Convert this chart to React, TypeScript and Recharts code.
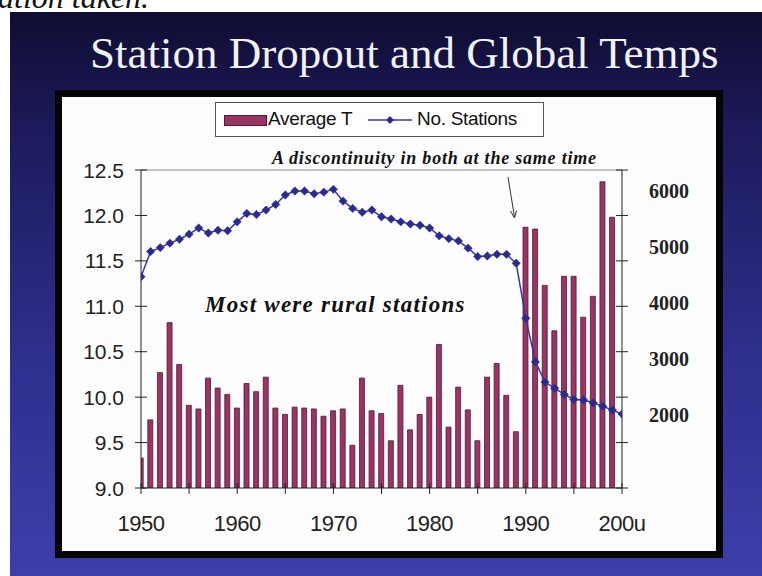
import React from "react"
import { Bar, ComposedChart, Line, ReferenceLine, XAxis, YAxis } from "recharts"

// years on the x axis
const years = [
  1950, 1951, 1952, 1953, 1954, 1955, 1956, 1957, 1958, 1959,
  1960, 1961, 1962, 1963, 1964, 1965, 1966, 1967, 1968, 1969,
  1970, 1971, 1972, 1973, 1974, 1975, 1976, 1977, 1978, 1979,
  1980, 1981, 1982, 1983, 1984, 1985, 1986, 1987, 1988, 1989,
  1990, 1991, 1992, 1993, 1994, 1995, 1996, 1997, 1998, 1999,
  2000,
]

// Average T (left axis)
const averageT = [
  9.33, 9.75, 10.27, 10.82, 10.36, 9.91, 9.87, 10.21, 10.1, 10.03,
  9.88, 10.15, 10.06, 10.22, 9.88, 9.81, 9.89, 9.88, 9.87, 9.79,
  9.85, 9.87, 9.47, 10.21, 9.85, 9.82, 9.52, 10.13, 9.64, 9.81,
  10.0, 10.58, 9.67, 10.11, 9.86, 9.52, 10.22, 10.37, 10.02, 9.62,
  11.87, 11.85, 11.23, 10.73, 11.33, 11.33, 10.88, 11.11, 12.37, 11.98,
  null,
]

// No. Stations (right axis)
const stations = [
  4470, 4920, 4990, 5070, 5140, 5230, 5340, 5250, 5300, 5290,
  5450, 5600, 5580, 5660, 5760, 5930, 6000, 6000, 5950, 5980,
  6030, 5820, 5690, 5620, 5660, 5540, 5500, 5450, 5410, 5390,
  5340, 5200, 5150, 5110, 4980, 4830, 4840, 4870, 4870, 4710,
  3730, 2950, 2590, 2480, 2370, 2280, 2270, 2220, 2160, 2090,
  2020,
]

const xTicks = [1950, 1955, 1960, 1965, 1970, 1975, 1980, 1985, 1990, 1995, 2000]
const xLabels: Record<number, string> = {
  1950: "1950", 1960: "1960", 1970: "1970", 1980: "1980", 1990: "1990", 2000: "200u",
}
const tempTicks = [9.0, 9.5, 10.0, 10.5, 11.0, 11.5, 12.0, 12.5]
const stationTicks = [2000, 3000, 4000, 5000, 6000]

const data = years.map((year, i) => ({ year, avg: averageT[i], stations: stations[i] }))

const BAR_FILL = "#9a3464"
const BAR_EDGE = "#561634"
const LINE_COLOR = "#3636a6"
const DOT_COLOR = "#2a2a92"
const AXIS = "#222"
const SANS = "'Liberation Sans', Arial, sans-serif"
const SERIF = "'Liberation Serif', 'Times New Roman', serif"

const LeftTick = (props: any) => {
  const { x, y, payload } = props
  return (
    <g>
      <line x1={x - 6} x2={x + 6} y1={y} y2={y} stroke={AXIS} />
      <text x={x - 17} y={y + 7.5} textAnchor="end" fontFamily={SANS} fontSize={21} fill="#222">
        {Number(payload.value).toFixed(1)}
      </text>
    </g>
  )
}

const RightTick = (props: any) => {
  const { x, y } = props
  return <line x1={x - 6} x2={x + 6} y1={y} y2={y} stroke={AXIS} />
}

const StationTick = (props: any) => {
  const { x, y, payload } = props
  return (
    <text x={x + 17} y={y + 6.5} textAnchor="start" fontFamily={SERIF} fontWeight="bold" fontSize={20} fill="#222">
      {payload.value}
    </text>
  )
}

const BottomTick = (props: any) => {
  const { x, y, payload } = props
  const label = xLabels[payload.value]
  return (
    <g>
      <line x1={x} x2={x} y1={y - 5} y2={y + 6} stroke={AXIS} />
      {label && (
        <text x={x} y={y + 43} textAnchor="middle" fontFamily={SANS} fontSize={22} fill="#222" letterSpacing={-0.5}>
          {label}
        </text>
      )}
    </g>
  )
}

const Diamond = (props: any) => {
  const { cx, cy } = props
  if (cx == null || cy == null) return null
  return (
    <polygon
      points={`${cx},${cy - 4.2} ${cx + 4.2},${cy} ${cx},${cy + 4.2} ${cx - 4.2},${cy}`}
      fill={DOT_COLOR}
      stroke={DOT_COLOR}
      strokeWidth={0.5}
    />
  )
}

function LegendBox() {
  return (
    <div
      style={{
        position: "absolute", left: 215, top: 102, width: 327, height: 33,
        border: "1px solid #555", background: "#fff", fontFamily: SANS, fontSize: 19, color: "#111",
      }}
    >
      <div style={{ position: "absolute", left: 8, top: 12, width: 41, height: 9, background: BAR_FILL, border: `1px solid ${BAR_EDGE}` }} />
      <span style={{ position: "absolute", left: 52, top: 5, lineHeight: "22px", letterSpacing: -0.3 }}>Average T</span>
      <svg style={{ position: "absolute", left: 150, top: 7 }} width={48} height={20}>
        <line x1={2} x2={46} y1={10} y2={10} stroke={LINE_COLOR} strokeWidth={1.5} />
        <polygon points="24,6 28,10 24,14 20,10" fill={DOT_COLOR} />
      </svg>
      <span style={{ position: "absolute", left: 201, top: 5, lineHeight: "22px", letterSpacing: -0.3 }}>No. Stations</span>
    </div>
  )
}

export default function App() {
  return (
    <div style={{ position: "fixed", left: 0, top: 0, width: 762, height: 576, overflow: "hidden", background: "#fff" }}>
      <div style={{ position: "absolute", left: -2, top: -19, fontFamily: SERIF, fontStyle: "italic", fontSize: 32, lineHeight: "32px", color: "#111" }}>
        ation taken.
      </div>
      <div
        style={{
          position: "absolute", left: 10, top: 12, right: 0, bottom: 0,
          background: "linear-gradient(180deg, #0f0d32 0%, #1d1b5c 22%, #2e2e8c 60%, #3e3eaa 100%)",
        }}
      />
      <div style={{ position: "absolute", left: 90, top: 28, fontFamily: SERIF, fontSize: 45, lineHeight: "50px", color: "#f2f2fa", whiteSpace: "nowrap" }}>
        Station Dropout and Global Temps
      </div>
      <div style={{ position: "absolute", left: 55, top: 90, width: 654, height: 454, border: "7px solid #050505", background: "#fdfdfd" }} />

      <div style={{ position: "absolute", left: 62, top: 97 }}>
        <ComposedChart width={654} height={454} data={data} margin={{ top: 73, right: 14, bottom: 13, left: 19 }}>
          <XAxis
            dataKey="year"
            type="number"
            domain={[1950, 2000]}
            allowDataOverflow
            ticks={xTicks}
            interval={0}
            height={50}
            tickSize={0}
            tickMargin={0}
            tickLine={false}
            axisLine={{ stroke: AXIS }}
            tick={<BottomTick />}
          />
          <YAxis
            yAxisId="temp"
            orientation="left"
            width={60}
            domain={[9, 12.5]}
            allowDataOverflow
            ticks={tempTicks}
            interval={0}
            tickSize={0}
            tickMargin={0}
            tickLine={false}
            axisLine={{ stroke: AXIS }}
            tick={<LeftTick />}
          />
          <YAxis
            yAxisId="zStations"
            orientation="right"
            width={70}
            domain={[700, 6375]}
            allowDataOverflow
            ticks={stationTicks}
            interval={0}
            tickSize={0}
            tickMargin={0}
            tickLine={false}
            axisLine={false}
            tick={<StationTick />}
          />
          <YAxis
            yAxisId="tempR"
            orientation="right"
            width={10}
            domain={[9, 12.5]}
            allowDataOverflow
            ticks={tempTicks}
            interval={0}
            tickSize={0}
            tickMargin={0}
            tickLine={false}
            axisLine={{ stroke: AXIS }}
            tick={<RightTick />}
          />
          <ReferenceLine yAxisId="temp" y={12.5} stroke="#888" strokeWidth={1} />
          <Bar
            yAxisId="temp"
            dataKey="avg"
            name="Average T"
            barSize={5}
            fill={BAR_FILL}
            stroke={BAR_EDGE}
            strokeWidth={0.8}
            isAnimationActive={false}
          />
          <Line
            yAxisId="zStations"
            dataKey="stations"
            name="No. Stations"
            type="linear"
            stroke={LINE_COLOR}
            strokeWidth={1.5}
            dot={<Diamond />}
            activeDot={false}
            isAnimationActive={false}
          />
        </ComposedChart>
      </div>

      <LegendBox />

      <div style={{ position: "absolute", left: 272, top: 149, fontFamily: SERIF, fontStyle: "italic", fontWeight: "bold", fontSize: 18, lineHeight: "18px", letterSpacing: 0.78, color: "#111", whiteSpace: "nowrap" }}>
        A discontinuity in both at the same time
      </div>
      <svg style={{ position: "absolute", left: 0, top: 0 }} width={762} height={576}>
        <line x1={508} y1={177} x2={514.5} y2={217} stroke="#333" strokeWidth={1} />
        <polyline points="510.5,211 514.5,218 516.5,210.5" fill="none" stroke="#333" strokeWidth={1} />
      </svg>
      <div style={{ position: "absolute", left: 205, top: 293, fontFamily: SERIF, fontStyle: "italic", fontWeight: "bold", fontSize: 23, lineHeight: "23px", letterSpacing: 1.25, color: "#111", whiteSpace: "nowrap" }}>
        Most were rural stations
      </div>
    </div>
  )
}
